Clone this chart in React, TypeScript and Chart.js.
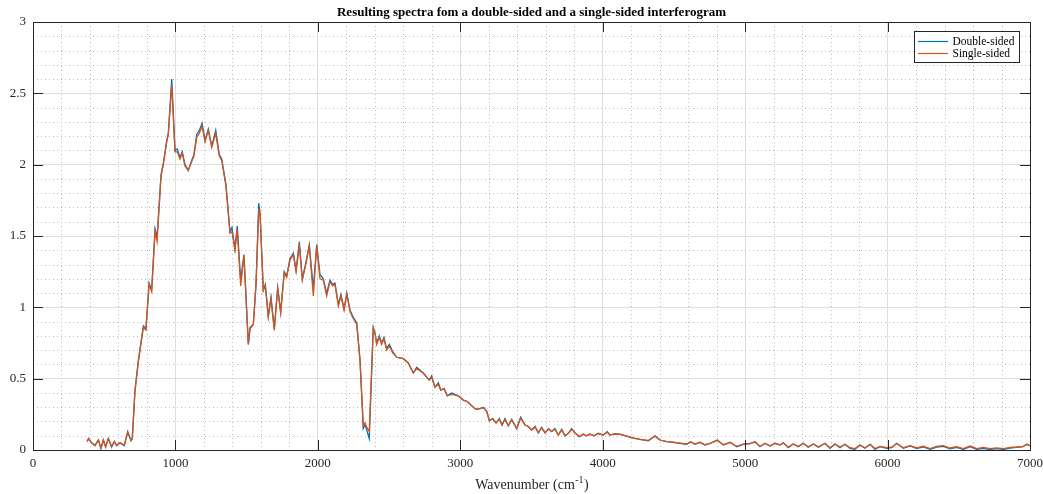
import React, { useEffect, useRef } from "react";
import { Chart, registerables } from "chart.js";

Chart.register(...registerables);

const chartTitle = "Resulting spectra fom a double-sided and a single-sided interferogram";
const xAxisLabel = "Wavenumber (cm";
const xAxisLabelSup = "-1";
const xAxisLabelEnd = ")";
const seriesNames = ["Double-sided", "Single-sided"];
const seriesColors = ["#0072BD", "#D95319"];

const xTickValues = [0, 1000, 2000, 3000, 4000, 5000, 6000, 7000];
const yTickValues = [0, 0.5, 1, 1.5, 2, 2.5, 3];
const xMinorStep = 200;
const yMinorStep = 0.1;

const wavenumber = [
  380, 390, 412, 435, 459, 477, 494, 510, 529, 552, 571, 587, 611, 641, 665, 688, 697,
  716, 740, 775, 793, 815, 833, 857, 871, 899, 915, 939, 950, 974, 997, 1013,
  1032, 1048, 1067, 1090, 1114, 1130, 1149, 1168, 1187, 1208, 1231, 1255, 1283, 1308, 1325,
  1355, 1383, 1397, 1418, 1434, 1458, 1481, 1512, 1524, 1547, 1566, 1585, 1594, 1617, 1631,
  1652, 1671, 1694, 1718, 1739, 1764, 1781, 1804, 1828, 1847, 1870, 1891, 1915, 1940, 1968,
  1992, 2015, 2038, 2062, 2085, 2104, 2120, 2144, 2162, 2184, 2203, 2226, 2249, 2273, 2296,
  2319, 2331, 2343, 2361, 2378, 2389, 2401, 2413, 2431, 2448, 2464, 2483, 2502, 2525, 2554,
  2600, 2635, 2670, 2694, 2740, 2782, 2799, 2822, 2846, 2863, 2886, 2909, 2940, 2986, 3021,
  3049, 3080, 3110, 3138, 3162, 3186, 3204, 3228, 3251, 3274, 3293, 3314, 3337, 3361, 3396,
  3424, 3454, 3478, 3501, 3525, 3548, 3571, 3595, 3618, 3642, 3665, 3688, 3712, 3735, 3758,
  3782, 3805, 3836, 3864, 3887, 3911, 3939, 3969, 4004, 4032, 4051, 4085, 4121, 4168, 4215,
  4262, 4320, 4367, 4402, 4449, 4496, 4543, 4590, 4618, 4648, 4683, 4718, 4753, 4805, 4847,
  4894, 4941, 4987, 5034, 5069, 5104, 5139, 5174, 5210, 5245, 5268, 5303, 5338, 5373, 5408,
  5443, 5479, 5514, 5561, 5596, 5631, 5666, 5701, 5736, 5771, 5806, 5842, 5877, 5912, 5947,
  5994, 6029, 6064, 6111, 6158, 6205, 6251, 6298, 6345, 6392, 6438, 6485, 6532, 6579, 6626,
  6672, 6719, 6766, 6813, 6860, 6906, 6953, 6977, 7000,
];

const doubleSided = [
  0.06, 0.08, 0.05, 0.03, 0.07, 0.01, 0.07, 0.02, 0.08, 0.02, 0.06, 0.03, 0.05, 0.03, 0.13, 0.065, 0.08,
  0.42, 0.63, 0.87, 0.85, 1.17, 1.12, 1.55, 1.49, 1.93, 2.01, 2.17, 2.22, 2.6, 2.1, 2.11,
  2.05, 2.09, 2.0, 1.96, 2.03, 2.07, 2.21, 2.24, 2.29, 2.17, 2.25, 2.13, 2.24, 2.07, 2.04,
  1.86, 1.53, 1.56, 1.41, 1.57, 1.19, 1.37, 0.74, 0.86, 0.88, 1.17, 1.73, 1.66, 1.12, 1.16,
  0.94, 1.07, 0.85, 1.14, 0.97, 1.25, 1.22, 1.34, 1.38, 1.26, 1.46, 1.2, 1.31, 1.44, 1.13,
  1.44, 1.23, 1.2, 1.1, 1.19, 1.16, 1.17, 1.02, 1.09, 0.99, 1.1, 0.98, 0.93, 0.89, 0.63,
  0.15, 0.18, 0.14, 0.08, 0.56, 0.86, 0.82, 0.75, 0.8, 0.75, 0.79, 0.71, 0.74, 0.69, 0.65,
  0.64, 0.61, 0.54, 0.58, 0.54, 0.49, 0.52, 0.44, 0.47, 0.42, 0.43, 0.38, 0.4, 0.38, 0.35,
  0.34, 0.31, 0.285, 0.29, 0.3, 0.27, 0.205, 0.22, 0.19, 0.22, 0.175, 0.22, 0.17, 0.215, 0.15,
  0.23, 0.175, 0.165, 0.14, 0.165, 0.12, 0.16, 0.12, 0.15, 0.13, 0.15, 0.105, 0.145, 0.1, 0.117,
  0.15, 0.12, 0.093, 0.112, 0.1, 0.112, 0.1, 0.117, 0.105, 0.128, 0.105, 0.115, 0.112, 0.098, 0.084,
  0.075, 0.065, 0.1, 0.07, 0.058, 0.054, 0.047, 0.04, 0.058, 0.04, 0.054, 0.035, 0.047, 0.07, 0.035,
  0.054, 0.023, 0.04, 0.045, 0.058, 0.023, 0.047, 0.028, 0.047, 0.035, 0.051, 0.016, 0.042, 0.023, 0.047,
  0.019, 0.042, 0.019, 0.047, 0.012, 0.042, 0.016, 0.04, 0.012, 0.005, 0.035, 0.012, 0.04, 0.005, 0.023,
  0.012, 0.016, 0.047, 0.012, 0.028, 0.01, 0.022, 0.005, 0.02, 0.026, 0.008, 0.018, 0.004, 0.024, 0.004,
  0.012, 0.003, 0.01, 0.004, 0.014, 0.018, 0.024, 0.04, 0.03,
];

const singleSided = [
  0.06, 0.08, 0.05, 0.035, 0.07, 0.015, 0.07, 0.025, 0.08, 0.025, 0.06, 0.035, 0.05, 0.035, 0.12, 0.07, 0.08,
  0.41, 0.62, 0.86, 0.84, 1.16, 1.11, 1.53, 1.46, 1.92, 2.0, 2.16, 2.21, 2.56, 2.09, 2.09,
  2.04, 2.08, 1.99, 1.96, 2.02, 2.06, 2.19, 2.22, 2.27, 2.16, 2.24, 2.12, 2.22, 2.06, 2.03,
  1.85, 1.52, 1.53, 1.4, 1.55, 1.15, 1.36, 0.74, 0.85, 0.88, 1.16, 1.68, 1.66, 1.12, 1.15,
  0.93, 1.06, 0.84, 1.13, 0.96, 1.24, 1.21, 1.33, 1.37, 1.25, 1.43, 1.19, 1.3, 1.43, 1.08,
  1.43, 1.2, 1.19, 1.08, 1.18, 1.15, 1.16, 1.01, 1.08, 0.98, 1.09, 0.97, 0.92, 0.88, 0.63,
  0.17, 0.19, 0.16, 0.13, 0.57, 0.85, 0.82, 0.74, 0.79, 0.74, 0.78, 0.7, 0.73, 0.68, 0.65,
  0.64, 0.61, 0.54, 0.57, 0.54, 0.49, 0.51, 0.44, 0.46, 0.42, 0.43, 0.38, 0.39, 0.38, 0.35,
  0.34, 0.31, 0.285, 0.29, 0.295, 0.27, 0.205, 0.22, 0.19, 0.215, 0.175, 0.215, 0.17, 0.21, 0.15,
  0.225, 0.175, 0.165, 0.14, 0.16, 0.12, 0.155, 0.12, 0.145, 0.13, 0.145, 0.105, 0.14, 0.1, 0.115,
  0.145, 0.12, 0.095, 0.11, 0.1, 0.11, 0.1, 0.115, 0.105, 0.125, 0.105, 0.112, 0.11, 0.098, 0.085,
  0.075, 0.066, 0.097, 0.07, 0.058, 0.055, 0.048, 0.042, 0.056, 0.042, 0.054, 0.037, 0.047, 0.067, 0.037,
  0.053, 0.026, 0.041, 0.045, 0.056, 0.026, 0.046, 0.03, 0.046, 0.036, 0.05, 0.02, 0.042, 0.026, 0.046,
  0.022, 0.042, 0.022, 0.046, 0.016, 0.042, 0.02, 0.04, 0.016, 0.01, 0.035, 0.016, 0.04, 0.01, 0.025,
  0.016, 0.02, 0.046, 0.016, 0.03, 0.015, 0.026, 0.01, 0.025, 0.03, 0.014, 0.023, 0.01, 0.029, 0.01,
  0.018, 0.009, 0.015, 0.01, 0.018, 0.021, 0.026, 0.04, 0.03,
];

const FONT = '"Liberation Serif", "Times New Roman", serif';
const AXIS_COLOR = "#262626";

const matlabPlugin = {
  id: "matlabDecor",
  beforeDatasetsDraw(chart: any) {
    const { ctx, chartArea, scales } = chart;
    const xs = scales.x;
    const ys = scales.y;
    ctx.save();
    ctx.strokeStyle = "#bdbdbd";
    ctx.lineWidth = 1;
    ctx.setLineDash([1, 3]);
    for (let v = xs.min; v <= xs.max + 1e-9; v += xMinorStep) {
      if (Math.abs(v % 1000) < 1e-6) continue;
      const px = Math.round(xs.getPixelForValue(v)) + 0.5;
      ctx.beginPath();
      ctx.moveTo(px, chartArea.top);
      ctx.lineTo(px, chartArea.bottom);
      ctx.stroke();
    }
    for (let i = 0; i * yMinorStep <= ys.max + 1e-9; i++) {
      const v = i * yMinorStep;
      if (i % 5 === 0) continue;
      const py = Math.round(ys.getPixelForValue(v)) + 0.5;
      ctx.beginPath();
      ctx.moveTo(chartArea.left, py);
      ctx.lineTo(chartArea.right, py);
      ctx.stroke();
    }
    ctx.restore();
  },
  afterDatasetsDraw(chart: any) {
    const { ctx, chartArea, scales } = chart;
    const xs = scales.x;
    const ys = scales.y;
    const { left, right, top, bottom } = chartArea;
    const tl = 10;
    ctx.save();
    ctx.setLineDash([]);
    ctx.strokeStyle = AXIS_COLOR;
    ctx.lineWidth = 1;
    ctx.beginPath();
    for (const v of xTickValues) {
      const px = Math.round(xs.getPixelForValue(v)) + 0.5;
      ctx.moveTo(px, bottom);
      ctx.lineTo(px, bottom - tl);
      ctx.moveTo(px, top);
      ctx.lineTo(px, top + tl);
    }
    for (const v of yTickValues) {
      const py = Math.round(ys.getPixelForValue(v)) + 0.5;
      ctx.moveTo(left, py);
      ctx.lineTo(left + tl, py);
      ctx.moveTo(right, py);
      ctx.lineTo(right - tl, py);
    }
    ctx.stroke();
    ctx.strokeRect(Math.round(left) + 0.5, Math.round(top) + 0.5, Math.round(right - left), Math.round(bottom - top));
    ctx.restore();
  },
  afterDraw(chart: any) {
    const { ctx, chartArea } = chart;
    const cx = (chartArea.left + chartArea.right) / 2;
    ctx.save();
    ctx.fillStyle = "#000000";
    ctx.textBaseline = "alphabetic";
    // title
    ctx.font = `bold 13px ${FONT}`;
    ctx.textAlign = "center";
    ctx.fillText(chartTitle, cx, 16);
    // x-axis label with superscript
    ctx.textAlign = "left";
    ctx.fillStyle = AXIS_COLOR;
    ctx.font = `14px ${FONT}`;
    const w1 = ctx.measureText(xAxisLabel).width;
    const w3 = ctx.measureText(xAxisLabelEnd).width;
    ctx.font = `10px ${FONT}`;
    const w2 = ctx.measureText(xAxisLabelSup).width;
    const x0 = cx - (w1 + w2 + w3) / 2;
    ctx.font = `14px ${FONT}`;
    ctx.fillText(xAxisLabel, x0, 489);
    ctx.font = `10px ${FONT}`;
    ctx.fillText(xAxisLabelSup, x0 + w1 + 0.5, 483);
    ctx.font = `14px ${FONT}`;
    ctx.fillText(xAxisLabelEnd, x0 + w1 + w2 + 1, 489);
    // legend
    const lx = 914, ly = 31, lw = 105, lh = 31;
    ctx.fillStyle = "#ffffff";
    ctx.fillRect(lx, ly, lw, lh);
    ctx.strokeStyle = AXIS_COLOR;
    ctx.lineWidth = 1;
    ctx.strokeRect(lx + 0.5, ly + 0.5, lw, lh);
    const rows = [41.5, 53.5];
    ctx.font = `11.5px ${FONT}`;
    seriesNames.forEach((name, i) => {
      ctx.strokeStyle = seriesColors[i];
      ctx.lineWidth = 1.2;
      ctx.beginPath();
      ctx.moveTo(918, rows[i]);
      ctx.lineTo(948, rows[i]);
      ctx.stroke();
      ctx.fillStyle = "#000000";
      ctx.textBaseline = "middle";
      ctx.fillText(name, 952.5, rows[i] + 0.5);
    });
    ctx.restore();
  },
};

export default function App() {
  const canvasRef = useRef<HTMLCanvasElement | null>(null);

  useEffect(() => {
    if (!canvasRef.current) return;
    const makeData = (ys: number[]) => wavenumber.map((x, i) => ({ x, y: ys[i] }));
    const chart = new Chart(canvasRef.current, {
      type: "line",
      data: {
        datasets: [
          {
            label: seriesNames[0],
            data: makeData(doubleSided),
            borderColor: seriesColors[0],
            backgroundColor: seriesColors[0],
            borderWidth: 1.3,
            pointRadius: 0,
            tension: 0,
            order: 1,
          },
          {
            label: seriesNames[1],
            data: makeData(singleSided),
            borderColor: seriesColors[1],
            backgroundColor: seriesColors[1],
            borderWidth: 1.3,
            pointRadius: 0,
            tension: 0,
            order: 0,
          },
        ],
      },
      options: {
        responsive: false,
        animation: false,
        devicePixelRatio: 1,
        layout: { padding: { top: 22, right: 13, left: 0, bottom: 0 } },
        plugins: {
          legend: { display: false },
          title: { display: false },
          tooltip: { enabled: false },
        },
        events: [],
        scales: {
          x: {
            type: "linear",
            min: 0,
            max: 7000,
            afterBuildTicks: (scale: any) => {
              scale.ticks = xTickValues.map((v) => ({ value: v }));
            },
            afterFit: (scale: any) => {
              scale.height = 44;
              scale.paddingLeft = 0;
              scale.paddingRight = 0;
            },
            ticks: {
              autoSkip: false,
              maxRotation: 0,
              padding: 6,
              color: AXIS_COLOR,
              font: { family: FONT, size: 13 },
              callback: (v: any) => String(v),
            },
            grid: { color: "#dedede", lineWidth: 1, drawTicks: false },
            border: { display: false },
          },
          y: {
            type: "linear",
            min: 0,
            max: 3,
            afterBuildTicks: (scale: any) => {
              scale.ticks = yTickValues.map((v) => ({ value: v }));
            },
            afterFit: (scale: any) => {
              scale.width = 33;
              scale.paddingTop = 0;
              scale.paddingBottom = 0;
            },
            ticks: {
              autoSkip: false,
              padding: 7,
              color: AXIS_COLOR,
              font: { family: FONT, size: 13 },
              callback: (v: any) => String(v),
            },
            grid: { color: "#dedede", lineWidth: 1, drawTicks: false },
            border: { display: false },
          },
        },
      },
      plugins: [matlabPlugin],
    });
    return () => chart.destroy();
  }, []);

  return (
    <div style={{ position: "absolute", left: 0, top: 0, width: 1043, height: 494, background: "#ffffff" }}>
      <canvas ref={canvasRef} width={1043} height={494} style={{ display: "block", width: 1043, height: 494 }} />
    </div>
  );
}
